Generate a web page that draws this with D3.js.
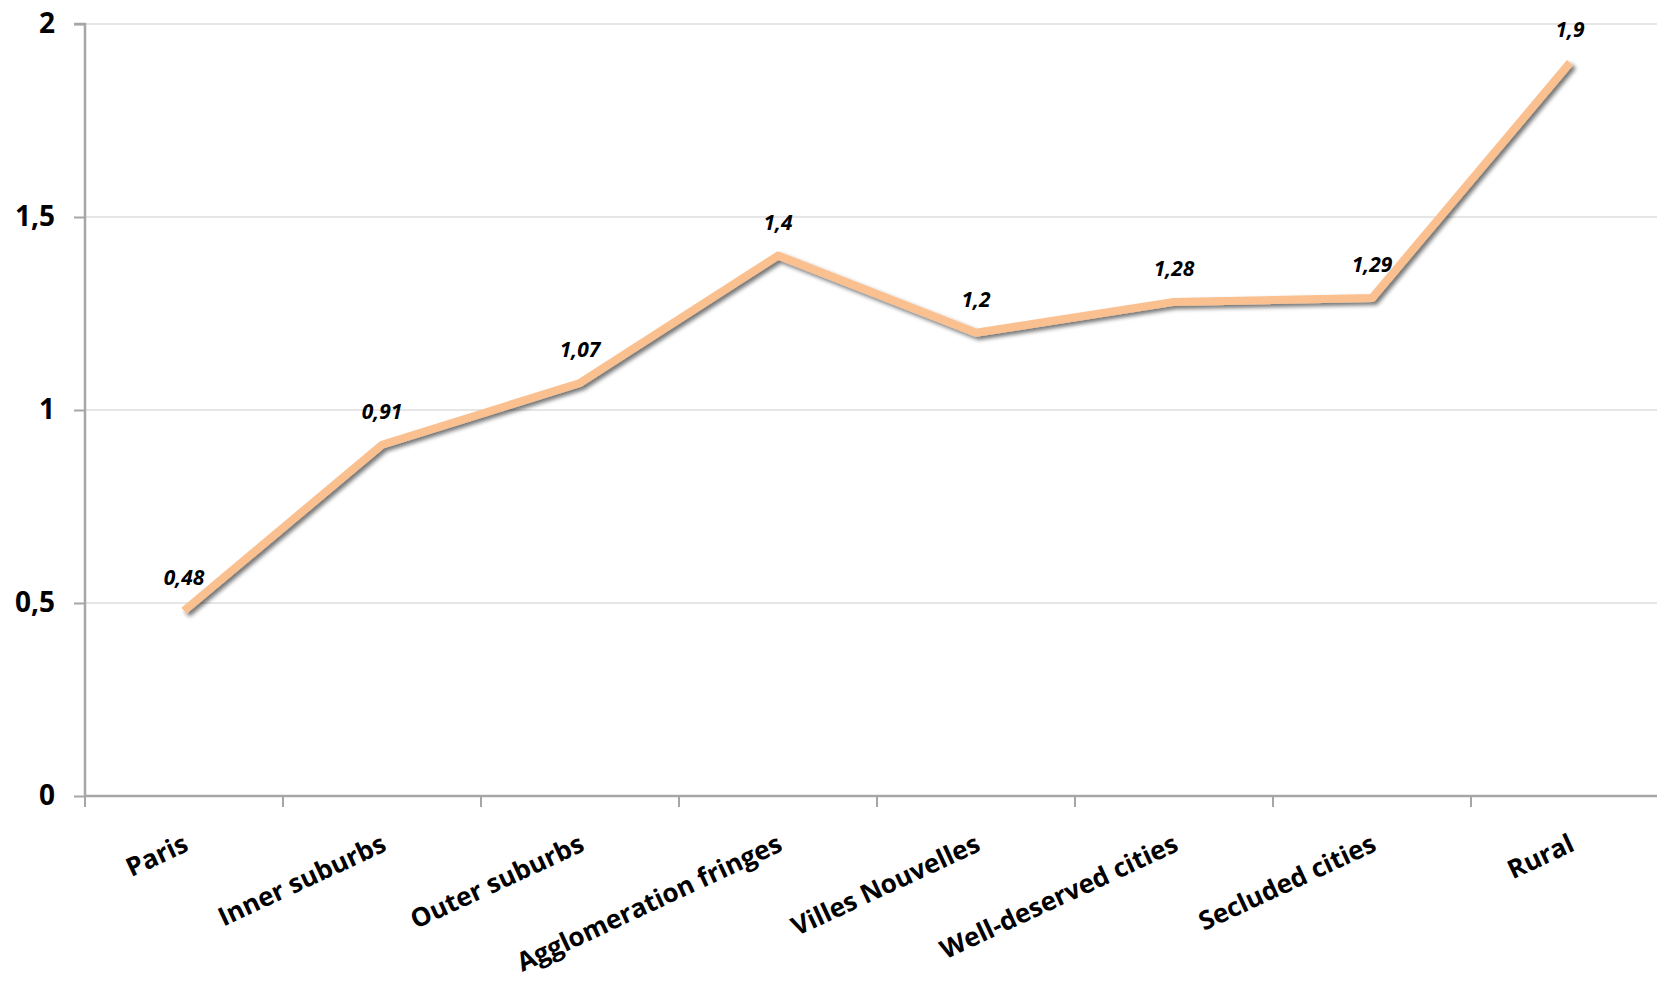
<!DOCTYPE html>
<html><head><meta charset="utf-8">
<script src="https://cdn.jsdelivr.net/npm/d3@7"></script>
<style>
html,body{margin:0;padding:0;background:#fff;}
svg{display:block;}
</style></head>
<body>
<svg id="chart" width="1657" height="984"></svg>
<script>
const categories = ["Paris","Inner suburbs","Outer suburbs","Agglomeration fringes","Villes Nouvelles","Well-deserved cities","Secluded cities","Rural"];
const values = [0.48, 0.91, 1.07, 1.4, 1.2, 1.28, 1.29, 1.9];
const valueLabels = ["0,48","0,91","1,07","1,4","1,2","1,28","1,29","1,9"];
const yTicks = [0, 0.5, 1, 1.5, 2];
const yTickLabels = ["0","0,5","1","1,5","2"];

(function(){
const svg = d3.select("#chart");
const W = 1657, H = 984;
const mLeft = 85, mRight = 1669, mTop = 24, mBottom = 796;
const FONT = "'Open Sans', Lato, sans-serif";

const x = d3.scaleBand().domain(categories).range([mLeft, mRight]).paddingInner(0).paddingOuter(0);
const y = d3.scaleLinear().domain([0, 2]).range([mBottom, mTop]);

const defs = svg.append("defs");
const f = defs.append("filter").attr("id","shadow").attr("x","-10%").attr("y","-10%").attr("width","120%").attr("height","130%");
f.append("feGaussianBlur").attr("in","SourceAlpha").attr("stdDeviation",2.2).attr("result","b");
f.append("feOffset").attr("in","b").attr("dx",3).attr("dy",3).attr("result","o");
f.append("feComponentTransfer").attr("in","o").attr("result","o2")
  .append("feFuncA").attr("type","linear").attr("slope",0.55);
const m = f.append("feMerge");
m.append("feMergeNode").attr("in","o2");
m.append("feMergeNode").attr("in","SourceGraphic");

// gridlines
svg.append("g").selectAll("line").data(yTicks.filter(d=>d>0)).join("line")
  .attr("x1", mLeft).attr("x2", W)
  .attr("y1", d=>y(d)).attr("y2", d=>y(d))
  .attr("stroke", "#e6e6e6").attr("stroke-width", 2);

// y axis
const yAxis = d3.axisLeft(y).tickValues(yTicks).tickSize(11).tickPadding(19)
  .tickFormat((d,i)=>yTickLabels[i]);
const gy = svg.append("g").attr("transform", `translate(${mLeft},0)`).call(yAxis);
gy.select(".domain").attr("stroke","#a6a6a6").attr("stroke-width",2.5).attr("d", `M-11,${mTop}H0V${mBottom}`);
gy.selectAll(".tick line").attr("stroke","#a6a6a6").attr("stroke-width",2);
gy.selectAll(".tick text").attr("font-family",FONT).attr("font-weight","bold")
  .attr("font-size",28).attr("fill","#000").attr("dy","0.3em");

// x axis
const xTickPos = d3.range(categories.length + 1).map(i => mLeft + i * x.step());
svg.append("line").attr("x1", mLeft).attr("x2", W).attr("y1", mBottom).attr("y2", mBottom)
  .attr("stroke","#a6a6a6").attr("stroke-width",2.5);
svg.append("g").selectAll("line").data(xTickPos).join("line")
  .attr("x1", d=>d).attr("x2", d=>d).attr("y1", mBottom).attr("y2", mBottom + 11)
  .attr("stroke","#a6a6a6").attr("stroke-width",2);

svg.append("g").selectAll("text").data(categories).join("text")
  .attr("transform", d => `translate(${x(d) + x.bandwidth()/2 + 6},${mBottom + 54}) rotate(-25)`)
  .attr("text-anchor","end")
  .attr("font-family",FONT).attr("font-weight","bold")
  .attr("font-size",26).attr("fill","#000")
  .text(d=>d);

// line
const line = d3.line().x((d,i)=>x(categories[i]) + x.bandwidth()/2).y(d=>y(d));
svg.append("path").datum(values).attr("d", line)
  .attr("fill","none").attr("stroke","#fac090").attr("stroke-width",8)
  .attr("stroke-linejoin","round").attr("stroke-linecap","butt")
  .attr("filter","url(#shadow)");

// data labels
svg.append("g").selectAll("text").data(values).join("text")
  .attr("x", (d,i)=>x(categories[i]) + x.bandwidth()/2)
  .attr("y", d=>y(d) - 26)
  .attr("text-anchor","middle")
  .attr("font-family",FONT).attr("font-weight","bold").attr("font-style","italic")
  .attr("font-size",21).attr("fill","#000")
  .text((d,i)=>valueLabels[i]);
})();
</script>
</body></html>
